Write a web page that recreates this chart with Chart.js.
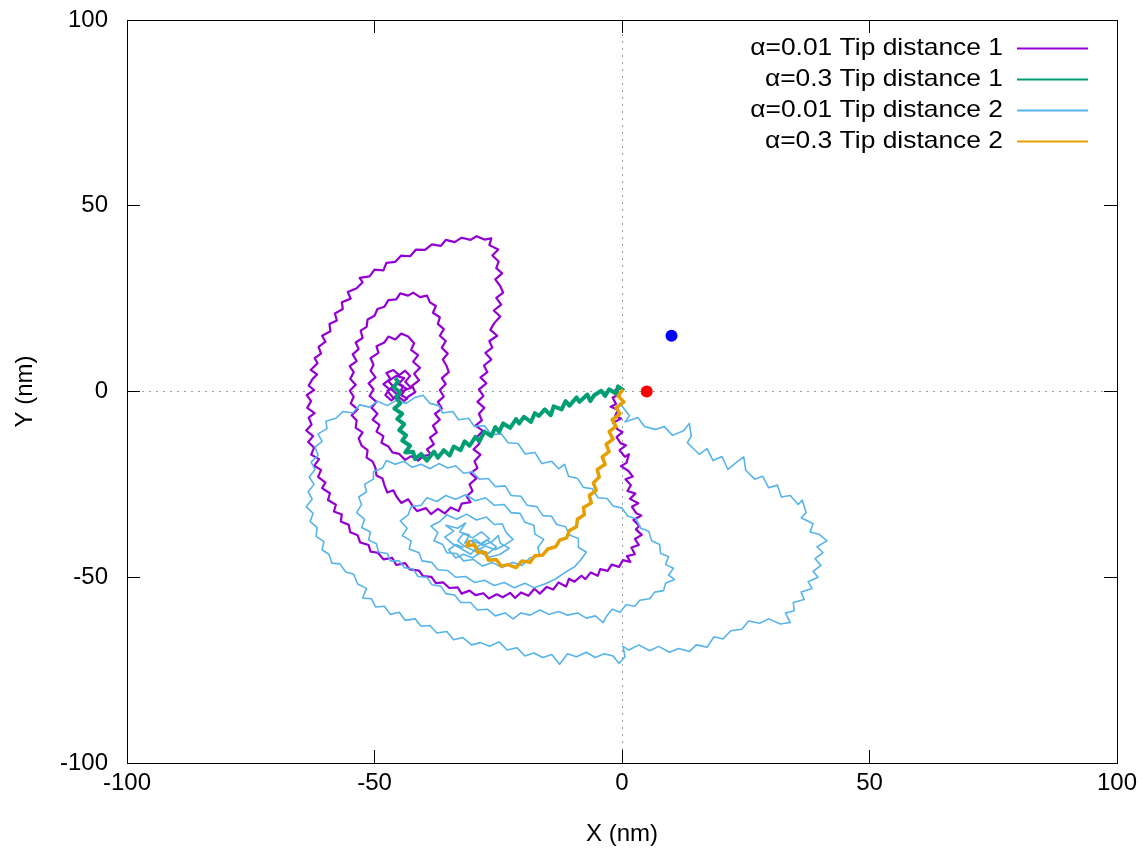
<!DOCTYPE html>
<html>
<head>
<meta charset="utf-8">
<script src="https://cdn.jsdelivr.net/npm/chart.js@4.4.1/dist/chart.umd.min.js"></script>
<style>
html, body { margin: 0; padding: 0; background: #fff; }
#wrap { width: 1148px; height: 857px; }
</style>
</head>
<body>
<div id="wrap"><canvas id="grafico" width="1148" height="857"></canvas></div>
<script>
// -------- DATA (nm)

const seriesLabels = [
  "α=0.01 Tip distance 1",
  "α=0.3 Tip distance 1",
  "α=0.01 Tip distance 2",
  "α=0.3 Tip distance 2"
];

// tip 1, alpha 0.01
const tip1Slow = [
[-1.5,0.6],[-0.4,-0.8],[-1.9,-1.6],[-1.2,-3.4],[-2.3,-4.1],[-0.8,-4.9],[-1.4,-6.6],[-0.2,-7.3],[-1.8,-8.4],[-0.9,-10.2],
[0.1,-10.9],[-1.1,-12.3],[-0.3,-13.9],[0.8,-14.5],[-0.5,-15.8],[0.6,-17.6],[1.4,-16.9],[0.9,-19.2],[-0.2,-20.1],[1.3,-21.4],
[2.2,-22.9],[0.7,-23.6],[1.8,-25.2],[1.1,-26.8],[2.7,-27.5],[1.6,-28.9],[3.3,-30.1],[2.0,-31.0],[2.9,-32.8],[3.9,-33.4],
[2.3,-34.6],[3.5,-36.2],[2.8,-37.1],[4.0,-38.6],[2.6,-39.7],[3.4,-41.3],[1.9,-42.0],[2.6,-43.8],[1.0,-44.3],[1.7,-45.9],
[0.2,-45.4],[-0.6,-47.2],[-2.1,-46.6],[-2.9,-48.3],[-4.4,-47.8],[-4.9,-49.6],[-6.3,-48.7],[-7.4,-50.5],[-8.2,-49.6],[-9.6,-51.2],
[-10.7,-50.4],[-11.3,-52.5],[-12.8,-51.4],[-13.9,-53.3],[-15.2,-52.6],[-16.6,-54.4],[-17.7,-53.1],[-18.9,-55.0],[-20.4,-54.1],[-21.6,-55.6],
[-22.6,-54.2],[-24.1,-55.4],[-25.3,-54.6],[-26.9,-55.7],[-28.0,-54.3],[-29.6,-54.8],[-30.8,-53.6],[-32.4,-54.4],[-33.2,-52.7],[-34.9,-52.9],
[-36.1,-51.4],[-37.6,-51.6],[-38.5,-49.9],[-40.2,-49.7],[-41.0,-48.2],[-42.9,-47.9],[-43.8,-46.2],[-45.6,-46.7],[-46.4,-44.8],[-48.2,-45.2],
[-49.3,-43.4],[-50.8,-43.1],[-51.2,-41.3],[-52.9,-40.6],[-53.4,-38.7],[-54.9,-37.9],[-55.2,-35.9],[-56.8,-35.0],[-56.6,-33.1],[-58.2,-32.3],
[-57.8,-30.5],[-59.4,-29.2],[-59.0,-27.4],[-60.6,-26.0],[-59.9,-24.5],[-61.4,-23.0],[-60.8,-21.1],[-62.2,-20.0],[-61.2,-18.2],[-62.8,-17.0],
[-62.2,-15.1],[-63.4,-13.6],[-62.4,-12.0],[-63.8,-10.5],[-62.7,-8.9],[-63.3,-7.0],[-62.1,-5.8],[-63.6,-4.4],[-62.8,-2.6],[-63.7,-1.0],
[-62.2,0.4],[-63.3,1.6],[-62.5,3.4],[-61.6,4.6],[-62.9,5.8],[-61.5,7.6],[-62.1,9.0],[-60.8,10.2],[-61.3,12.0],[-59.9,13.4],
[-60.6,15.0],[-58.9,16.2],[-59.1,18.2],[-57.6,19.1],[-58.0,21.0],[-56.4,22.2],[-56.6,24.0],[-54.8,25.0],[-55.4,26.8],[-53.6,27.8],
[-52.4,29.4],[-53.0,30.6],[-51.0,31.0],[-50.0,32.8],[-48.2,32.6],[-47.6,34.6],[-45.8,34.9],[-44.6,36.6],[-42.8,36.4],[-41.6,38.2],
[-39.8,38.1],[-38.4,39.6],[-36.6,39.2],[-35.6,40.8],[-33.8,40.2],[-32.4,41.4],[-30.6,40.8],[-29.4,41.8],[-27.8,40.9],[-26.4,41.2],
[-26.8,39.4],[-25.0,38.2],[-26.2,36.6],[-24.9,35.0],[-25.4,33.2],[-24.2,31.8],[-25.6,30.2],[-24.6,28.4],[-24.0,26.6],[-25.4,25.2],
[-24.4,23.4],[-25.9,21.8],[-24.6,20.2],[-25.8,18.4],[-26.6,16.6],[-25.2,15.0],[-26.8,13.6],[-26.2,11.8],[-27.6,10.4],[-26.4,8.6],
[-27.9,7.0],[-27.2,5.2],[-28.6,3.8],[-27.4,2.2],[-28.9,0.6],[-28.0,-1.2],[-29.2,-2.8],[-27.8,-4.4],[-28.9,-6.0],[-28.3,-7.8],
[-29.6,-9.2],[-28.1,-10.6],[-29.4,-12.4],[-28.8,-14.0],[-30.0,-15.6],[-28.6,-17.0],[-29.8,-18.8],[-29.2,-20.6],[-30.6,-22.0],[-29.4,-23.4],
[-30.8,-25.0],[-30.2,-26.8],[-31.4,-28.2],[-30.6,-29.8],[-32.4,-30.2],[-33.0,-32.2],[-34.6,-31.2],[-35.8,-32.8],[-37.2,-31.6],[-38.6,-33.0],
[-39.6,-31.4],[-41.4,-32.2],[-42.4,-30.6],[-43.2,-29.0],[-44.6,-30.0],[-45.6,-28.2],[-46.2,-26.6],[-47.4,-27.2],[-48.0,-25.2],[-48.4,-23.4],
[-49.6,-22.6],[-49.8,-20.6],[-50.4,-18.8],[-51.6,-17.8],[-51.4,-15.8],[-52.6,-14.6],[-53.2,-12.6],[-52.4,-11.0],[-53.8,-9.8],[-53.6,-7.8],
[-54.6,-6.4],[-53.4,-4.8],[-54.8,-3.2],[-54.2,-1.4],[-55.0,0.2],[-53.8,1.8],[-54.9,3.4],[-54.2,5.2],[-55.0,6.8],[-53.6,8.2],
[-54.4,10.0],[-53.2,11.4],[-53.8,13.2],[-52.4,14.4],[-52.8,16.4],[-51.6,17.4],[-51.4,19.4],[-50.0,20.4],[-49.4,22.2],[-48.0,22.8],
[-47.2,24.6],[-45.6,24.8],[-44.8,26.4],[-43.2,25.8],[-42.2,26.6],[-40.8,25.4],[-39.4,25.8],[-38.8,24.0],[-37.6,23.0],[-38.2,21.2],
[-36.8,20.0],[-37.2,18.2],[-36.0,16.8],[-36.8,15.0],[-35.6,13.6],[-36.4,11.8],[-35.2,10.2],[-36.2,8.6],[-35.4,6.8],[-35.0,5.2],
[-36.4,3.6],[-35.6,2.0],[-36.8,0.4],[-36.0,-1.4],[-37.2,-2.8],[-36.4,-4.6],[-37.8,-6.0],[-36.8,-7.6],[-38.2,-9.2],[-37.4,-11.0],
[-38.8,-12.4],[-38.0,-14.2],[-39.4,-15.6],[-38.6,-17.0],[-40.2,-17.4],[-41.2,-18.6],[-42.6,-17.4],[-43.8,-18.4],[-45.0,-16.8],[-46.4,-16.4],
[-47.2,-14.8],[-48.6,-13.8],[-48.2,-12.0],[-49.6,-10.8],[-49.0,-9.0],[-50.4,-7.6],[-49.4,-6.0],[-50.6,-4.4],[-49.6,-2.8],[-51.0,-1.2],
[-50.2,0.6],[-51.2,2.2],[-49.8,3.8],[-50.8,5.6],[-50.2,7.2],[-50.8,9.0],[-49.2,10.4],[-49.6,12.2],[-48.0,13.2],[-47.2,14.8],
[-45.8,14.0],[-44.6,15.6],[-43.2,14.8],[-42.0,13.0],[-42.6,11.2],[-41.2,9.8],[-42.2,8.0],[-40.8,6.4],[-42.0,4.8],[-41.0,3.0],
[-42.4,1.6],[-41.8,-0.2],[-43.2,-1.4],[-44.0,-2.6],[-45.4,-1.2],[-46.6,-2.4],[-47.8,-1.0],[-47.0,0.6],[-48.2,2.0],[-46.8,3.4],
[-47.6,5.0],[-46.2,5.8],[-45.0,4.4],[-43.8,5.6],[-42.8,4.2],[-43.8,2.6],[-42.6,1.0],[-44.2,0.2],[-45.6,-0.6],[-46.8,0.8],
[-45.4,2.4],[-44.2,1.4],[-45.0,-0.4],[-46.2,-1.8],[-47.4,0.2],[-46.0,1.0],[-47.2,2.8],[-45.6,4.2],[-44.0,3.6],[-45.2,2.0],
[-43.6,0.8],[-44.6,-1.0],[-43.2,-2.0]
];

// tip 1, alpha 0.3
const tip1Fast = [
[0.4,0.2],[-0.8,1.4],[-1.2,-0.6],[-2.6,0.6],[-3.4,-1.2],[-4.2,0.2],[-5.6,-1.0],[-6.4,-2.6],[-7.0,-0.8],[-8.6,-2.8],
[-9.2,-1.6],[-10.6,-3.8],[-11.4,-2.6],[-12.2,-4.8],[-13.8,-4.0],[-14.4,-6.4],[-15.6,-4.8],[-16.8,-6.6],[-17.6,-5.8],[-18.4,-8.2],
[-19.8,-6.8],[-20.8,-8.6],[-21.4,-7.4],[-22.6,-9.8],[-24.0,-8.6],[-24.8,-10.8],[-25.6,-9.6],[-26.4,-12.0],[-27.8,-10.8],[-28.8,-13.4],
[-29.6,-12.2],[-30.8,-14.6],[-31.8,-13.4],[-32.6,-15.8],[-34.0,-14.8],[-34.8,-17.2],[-36.0,-15.8],[-37.2,-17.8],[-38.0,-16.2],[-39.4,-18.6],
[-40.6,-16.8],[-41.8,-18.2],[-42.2,-16.2],[-43.8,-16.4],[-42.8,-14.6],[-44.4,-13.2],[-43.6,-11.8],[-45.0,-10.4],[-44.0,-8.8],[-45.4,-7.4],
[-44.4,-6.0],[-46.0,-4.6],[-44.8,-3.2],[-45.6,-1.6],[-44.8,-0.2],[-46.2,1.2],[-45.2,2.6],[-45.8,3.6]
];

// tip 2, alpha 0.01
const tip2Slow = [
[-0.5,-3.0],[1.5,-6.5],[0.6,-8.2],[3.2,-7.0],[4.6,-9.5],[6.8,-10.2],[8.5,-9.4],[10.2,-11.8],[12.4,-10.6],[13.6,-8.6],
[14.0,-12.0],[13.2,-13.8],[15.6,-16.9],[17.2,-15.4],[18.4,-18.6],[20.2,-17.5],[21.4,-21.0],[22.8,-19.4],[24.6,-17.6],[25.0,-21.2],
[26.8,-23.6],[28.4,-22.8],[29.6,-25.9],[31.4,-25.2],[32.2,-28.4],[34.0,-28.0],[35.6,-30.4],[36.4,-29.2],[37.2,-32.6],[36.2,-34.0],
[38.6,-35.6],[38.0,-37.8],[39.8,-38.4],[41.4,-40.2],[39.4,-41.8],[40.6,-43.4],[39.0,-45.0],[40.2,-46.8],[38.6,-48.4],[39.6,-50.0],
[37.6,-51.2],[38.4,-53.0],[36.2,-54.0],[36.8,-56.0],[34.6,-56.8],[34.8,-59.0],[33.0,-59.6],[34.0,-62.2],[32.0,-62.6],[29.6,-61.2],
[27.8,-62.4],[25.6,-61.8],[24.2,-64.0],[22.0,-64.4],[20.4,-66.6],[18.6,-66.0],[17.2,-68.8],[15.0,-68.2],[13.6,-70.0],[11.4,-69.2],
[9.6,-70.2],[7.4,-68.6],[5.6,-69.8],[3.4,-68.2],[1.4,-69.6],[0.2,-68.6],[0.6,-71.4],[-0.6,-73.2],[-1.8,-71.2],[-3.6,-70.6],
[-5.4,-71.6],[-7.2,-70.2],[-9.2,-71.4],[-11.0,-70.6],[-12.6,-73.4],[-14.2,-70.8],[-16.0,-71.6],[-17.8,-70.4],[-19.6,-71.2],[-21.2,-69.0],
[-23.2,-69.6],[-24.8,-67.4],[-26.8,-68.6],[-28.6,-67.6],[-30.4,-68.2],[-32.2,-66.2],[-34.0,-66.8],[-35.4,-64.6],[-37.4,-65.0],[-38.8,-63.0],
[-40.6,-63.2],[-41.8,-61.2],[-43.8,-61.6],[-45.0,-59.4],[-46.8,-60.0],[-48.0,-57.8],[-49.8,-58.0],[-50.6,-55.8],[-52.4,-55.6],[-51.6,-53.0],
[-53.4,-51.8],[-54.2,-49.2],[-55.8,-48.6],[-57.0,-46.4],[-58.6,-46.2],[-59.2,-43.8],[-60.6,-42.6],[-60.2,-40.4],[-61.8,-39.0],[-61.6,-36.6],
[-63.0,-35.0],[-62.4,-32.8],[-63.8,-31.0],[-62.6,-29.0],[-63.4,-27.0],[-62.2,-25.0],[-63.2,-23.0],[-62.0,-21.0],[-62.8,-19.0],[-61.4,-17.2],
[-62.0,-15.0],[-60.6,-13.4],[-61.4,-11.4],[-59.6,-10.0],[-59.8,-8.0],[-57.8,-7.2],[-56.4,-5.4],[-54.4,-5.8],[-53.0,-3.6],[-51.0,-4.2],
[-49.4,-2.6],[-47.4,-3.8],[-45.6,-2.4],[-43.6,-3.2],[-41.8,-1.6],[-40.2,-1.0],[-38.8,-3.2],[-37.0,-3.8],[-36.2,-5.8],[-34.2,-5.4],
[-33.0,-7.6],[-31.0,-7.2],[-29.8,-9.4],[-27.8,-9.2],[-26.4,-11.6],[-24.4,-11.4],[-23.0,-13.8],[-21.0,-14.0],[-19.6,-16.8],[-17.6,-16.4],
[-16.2,-19.4],[-14.2,-18.8],[-12.8,-20.8],[-11.6,-19.6],[-10.8,-22.8],[-9.0,-23.4],[-7.8,-25.8],[-6.0,-26.2],[-4.8,-28.6],[-3.0,-28.8],
[-1.8,-30.8],[0.0,-31.4],[1.2,-33.6],[2.8,-34.2],[3.8,-36.8],[5.4,-37.6],[6.0,-40.2],[7.6,-41.2],[7.8,-43.6],[9.4,-44.4],
[8.8,-46.6],[10.4,-47.6],[9.4,-49.4],[10.6,-50.6],[8.8,-51.6],[8.4,-53.6],[6.6,-54.0],[5.6,-55.8],[3.6,-56.2],[2.6,-57.8],
[0.8,-57.4],[-0.4,-59.4],[-2.0,-58.6],[-3.2,-60.6],[-3.8,-62.2],[-5.4,-60.4],[-7.2,-61.0],[-9.0,-59.6],[-11.0,-60.2],[-12.8,-59.2],
[-14.8,-60.0],[-16.6,-58.8],[-18.6,-60.2],[-20.4,-59.6],[-22.0,-61.2],[-23.6,-59.6],[-25.6,-60.4],[-27.2,-58.6],[-29.2,-58.8],[-30.6,-56.8],
[-32.6,-56.8],[-33.8,-54.8],[-35.6,-54.4],[-36.6,-52.4],[-38.4,-52.0],[-39.4,-50.0],[-41.2,-49.8],[-42.2,-47.8],[-44.0,-47.4],[-45.0,-45.6],
[-46.8,-45.6],[-47.4,-43.6],[-49.2,-43.2],[-49.6,-41.0],[-51.2,-40.0],[-50.8,-37.8],[-52.6,-36.6],[-52.0,-34.4],[-53.6,-32.6],[-52.6,-30.4],
[-53.2,-28.4],[-51.6,-27.0],[-52.0,-25.0],[-50.2,-23.6],[-50.2,-21.6],[-48.4,-20.6],[-47.6,-18.6],[-45.8,-19.6],[-44.0,-18.8],[-42.4,-20.4],
[-40.6,-19.6],[-38.8,-20.8],[-37.0,-19.4],[-35.2,-20.6],[-33.6,-20.0],[-32.0,-22.0],[-30.2,-21.6],[-28.8,-23.6],[-27.0,-23.4],[-25.6,-25.6],
[-23.6,-25.4],[-22.4,-28.0],[-20.4,-28.2],[-19.2,-30.6],[-17.2,-31.0],[-16.0,-33.4],[-14.2,-33.6],[-13.2,-35.8],[-11.4,-36.4],[-10.6,-38.6],
[-8.8,-39.6],[-8.8,-42.0],[-7.2,-43.2],[-8.4,-45.4],[-9.6,-47.2],[-11.6,-48.8],[-13.6,-50.6],[-15.6,-51.8],[-17.8,-52.8],[-19.6,-51.6],
[-21.8,-52.8],[-23.8,-51.4],[-25.8,-52.2],[-27.8,-50.8],[-29.8,-51.4],[-31.6,-49.8],[-33.6,-50.0],[-35.2,-48.2],[-37.2,-48.0],[-38.4,-46.0],
[-40.4,-45.6],[-41.0,-43.4],[-43.0,-42.4],[-42.6,-40.2],[-44.4,-38.8],[-43.4,-36.8],[-44.8,-34.8],[-43.2,-33.2],[-42.6,-31.0],[-40.6,-30.6],
[-39.4,-28.6],[-37.4,-29.6],[-35.6,-28.0],[-33.6,-29.0],[-31.6,-27.8],[-29.6,-29.4],[-27.6,-28.6],[-25.8,-30.6],[-23.8,-30.4],[-22.4,-32.6],
[-20.6,-32.8],[-19.6,-35.2],[-17.8,-36.0],[-17.6,-38.4],[-15.8,-39.8],[-17.0,-42.0],[-16.6,-44.2],[-18.6,-44.8],[-20.2,-46.8],[-22.2,-46.0],
[-24.2,-47.4],[-26.2,-46.0],[-28.2,-47.0],[-30.0,-45.2],[-32.0,-45.6],[-33.4,-43.6],[-35.4,-43.4],[-36.2,-41.2],[-38.0,-40.2],[-37.2,-38.0],
[-38.6,-36.2],[-36.8,-35.0],[-35.4,-33.2],[-33.4,-34.4],[-31.4,-33.0],[-29.4,-34.6],[-27.4,-33.8],[-25.8,-35.8],[-24.2,-35.6],[-23.4,-38.0],
[-22.0,-39.8],[-23.8,-41.4],[-25.6,-42.6],[-27.6,-41.6],[-29.6,-43.0],[-31.6,-41.8],[-33.2,-40.2],[-32.0,-38.2],[-30.2,-39.4],[-28.4,-37.8],
[-26.8,-39.6],[-28.6,-41.0],[-30.4,-40.2],[-29.0,-42.4],[-27.0,-43.6],[-25.4,-41.8],[-27.2,-40.0],[-29.0,-41.6],[-30.6,-43.8],[-32.4,-42.4],
[-34.2,-41.0],[-35.8,-39.2],[-34.0,-37.6],[-35.6,-36.0],[-33.2,-36.8],[-31.6,-35.4],[-32.8,-37.8],[-30.8,-38.6],[-31.8,-40.8],[-29.6,-39.8],
[-28.2,-41.4],[-26.4,-40.6],[-25.0,-38.8],[-24.6,-40.8],[-22.8,-42.2],[-24.6,-43.8],[-26.8,-44.6],[-28.6,-43.4],[-30.2,-44.8],[-32.0,-43.8],
[-33.6,-44.8],[-35.0,-42.6],[-33.6,-41.2],[-32.0,-42.0]
];

// tip 2, alpha 0.3
const tip2Fast = [
[0.2,0.6],[-0.8,-1.2],[0.4,-2.8],[-1.2,-4.4],[-0.4,-6.0],[-2.0,-7.6],[-1.2,-9.4],[-2.6,-10.8],[-1.8,-12.8],[-3.2,-14.2],
[-2.6,-16.2],[-4.0,-17.6],[-3.4,-19.6],[-5.0,-21.0],[-4.6,-23.0],[-5.8,-24.6],[-5.2,-26.6],[-6.6,-28.0],[-6.2,-30.0],[-7.8,-31.2],
[-7.6,-33.2],[-9.0,-34.4],[-9.2,-36.4],[-10.6,-37.4],[-11.2,-39.4],[-12.6,-40.0],[-13.4,-41.8],[-15.0,-42.4],[-16.0,-44.0],[-17.6,-44.2],
[-18.6,-46.0],[-20.2,-45.6],[-21.4,-47.4],[-23.0,-46.6],[-24.4,-47.0],[-25.4,-45.2],[-27.0,-45.4],[-27.6,-43.4],[-29.2,-43.2],[-29.8,-41.2],
[-31.4,-41.6],[-30.8,-40.0]
];

// fixed tip positions (blue, red)
const markerPoints = [[10, 15], [5, 0]];

const axisMin = -100;
const axisMax = 100;
const tickStep = 50;

// -------- CHART

const FONT = "'Liberation Sans', Arial, sans-serif";
const toXY = arr => arr.map(p => ({x: p[0], y: p[1]}));

const lineSet = (label, pts, color, width, order) => ({
  label: label,
  data: toXY(pts),
  showLine: true,
  borderColor: color,
  backgroundColor: color,
  borderWidth: width,
  borderJoinStyle: "round",
  pointRadius: 0,
  pointHoverRadius: 0,
  tension: 0,
  order: order
});

const tickFont = {family: FONT, size: 24};
const zeroLine = c => (c.tick && c.tick.value === 0) ? "#a0a0a0" : "rgba(0,0,0,0)";

// legend in the top right corner, text right aligned, sample line after it
const legendRows = {
  id: "legendRows",
  afterDatasetsDraw(chart) {
    const ctx = chart.ctx;
    const area = chart.chartArea;
    ctx.save();
    ctx.font = "24px " + FONT;
    ctx.textAlign = "right";
    ctx.textBaseline = "middle";
    seriesLabels.forEach((txt, i) => {
      const ds = chart.data.datasets[i];
      const y = area.top + 28 + i * 31;
      const xr = area.right - 114;
      ctx.fillStyle = "#000";
      ctx.save();
      ctx.translate(xr, y);
      ctx.scale(1.1, 1);
      ctx.fillText(txt, 0, 0);
      ctx.restore();
      ctx.strokeStyle = ds.borderColor;
      ctx.lineWidth = 2;
      ctx.beginPath();
      ctx.moveTo(area.right - 100, y + 0.5);
      ctx.lineTo(area.right - 29, y + 0.5);
      ctx.stroke();
    });
    ctx.restore();
  }
};

new Chart(
document.getElementById("grafico"),
{
type: "scatter",
data: {
  datasets: [
    lineSet(seriesLabels[0], tip1Slow, "#9400d3", 2.2, 5),
    lineSet(seriesLabels[1], tip1Fast, "#009e73", 4, 3),
    lineSet(seriesLabels[2], tip2Slow, "#56b4e9", 1.6, 4),
    lineSet(seriesLabels[3], tip2Fast, "#e69f00", 3.5, 2),
    {
      label: "tips",
      data: toXY(markerPoints),
      showLine: false,
      pointRadius: 6,
      pointHoverRadius: 6,
      pointBorderWidth: 0,
      pointBackgroundColor: ["#0000ff", "#ff0000"],
      pointBorderColor: ["#0000ff", "#ff0000"],
      order: 1
    }
  ]
},
options: {
  responsive: false,
  animation: false,
  events: [],
  layout: {padding: {top: 20, right: 31, left: 0, bottom: 0}},
  plugins: {legend: {display: false}, tooltip: {enabled: false}},
  scales: {
    x: {
      type: "linear", position: "bottom", min: axisMin, max: axisMax,
      ticks: {stepSize: tickStep, color: "#000", font: tickFont, padding: 19, maxRotation: 0, autoSkip: false},
      grid: {color: zeroLine, lineWidth: 1, tickLength: -13, tickColor: "#000", tickWidth: 1},
      border: {display: true, color: "#000", width: 1, dash: [2, 5]},
      title: {display: true, text: "X (nm)", color: "#000", font: tickFont, padding: {top: 0, bottom: 8}},
      afterFit: s => { s.height = 94; s.paddingLeft = 0; s.paddingRight = 0; }
    },
    y: {
      type: "linear", position: "left", min: axisMin, max: axisMax,
      ticks: {stepSize: tickStep, color: "#000", font: tickFont, padding: 32, autoSkip: false},
      grid: {color: zeroLine, lineWidth: 1, tickLength: -13, tickColor: "#000", tickWidth: 1},
      border: {display: true, color: "#000", width: 1, dash: [2, 5]},
      title: {display: true, text: "Y (nm)", color: "#000", font: tickFont, padding: {top: 11, bottom: 0}},
      afterFit: s => { s.width = 127; s.paddingTop = 0; s.paddingBottom = 0; }
    },
    x2: {
      type: "linear", position: "top", min: axisMin, max: axisMax,
      ticks: {stepSize: tickStep, display: false},
      grid: {drawOnChartArea: false, tickLength: -13, tickColor: "#000", tickWidth: 1},
      border: {display: true, color: "#000", width: 1},
      afterFit: s => { s.height = 0; s.paddingLeft = 0; s.paddingRight = 0; }
    },
    y2: {
      type: "linear", position: "right", min: axisMin, max: axisMax,
      ticks: {stepSize: tickStep, display: false},
      grid: {drawOnChartArea: false, tickLength: -13, tickColor: "#000", tickWidth: 1},
      border: {display: true, color: "#000", width: 1},
      afterFit: s => { s.width = 0; s.paddingTop = 0; s.paddingBottom = 0; }
    }
  }
},
plugins: [legendRows]
}
);
</script>
</body>
</html>
